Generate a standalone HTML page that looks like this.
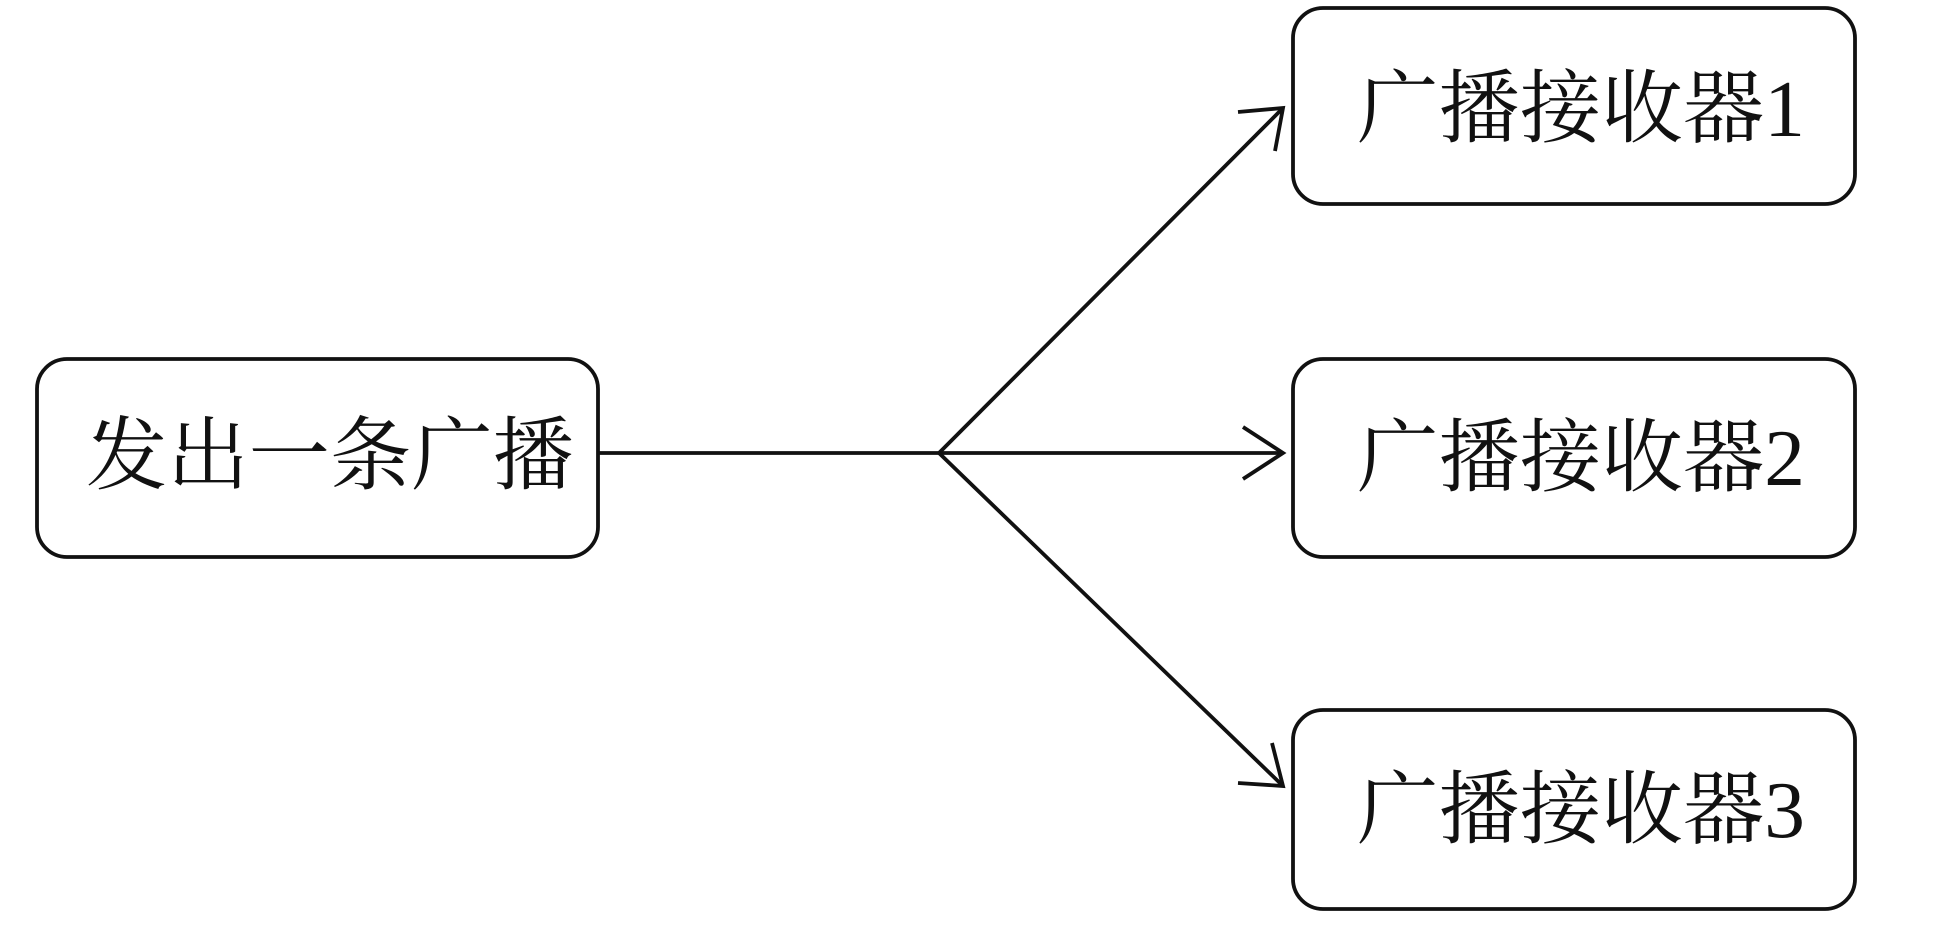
<!DOCTYPE html>
<html><head><meta charset="utf-8"><style>
html,body{margin:0;padding:0;background:#fff;}
svg{display:block}
text{font-family:"Liberation Serif","Noto Serif CJK SC",serif;font-size:80px;fill:#111;}
</style></head><body>
<svg width="1936" height="936" viewBox="0 0 1936 936" xmlns="http://www.w3.org/2000/svg">
<g fill="none" stroke="#111" stroke-width="3.8">
<rect x="37" y="359" width="561" height="198" rx="30"/>
<rect x="1293" y="8" width="562" height="196" rx="30"/>
<rect x="1293" y="359" width="562" height="198" rx="30"/>
<rect x="1293" y="710" width="562" height="199" rx="30"/>
<line x1="598" y1="453" x2="939" y2="453"/>
<line x1="939" y1="453" x2="1283" y2="453"/>
<line x1="939" y1="453" x2="1283" y2="108"/>
<line x1="939" y1="453" x2="1283" y2="786"/>
<polyline points="1243,427 1283,453 1243,479"/>
<polyline points="1238,112 1283,108 1275,151"/>
<polyline points="1238,783 1283,786 1272,743"/>
</g>
<text x="86" y="483" textLength="488" lengthAdjust="spacingAndGlyphs">发出一条广播</text>
<text x="1357" y="136" textLength="448" lengthAdjust="spacingAndGlyphs">广播接收器1</text>
<text x="1357" y="485" textLength="448" lengthAdjust="spacingAndGlyphs">广播接收器2</text>
<text x="1357" y="837" textLength="448" lengthAdjust="spacingAndGlyphs">广播接收器3</text>
</svg>
</body></html>
